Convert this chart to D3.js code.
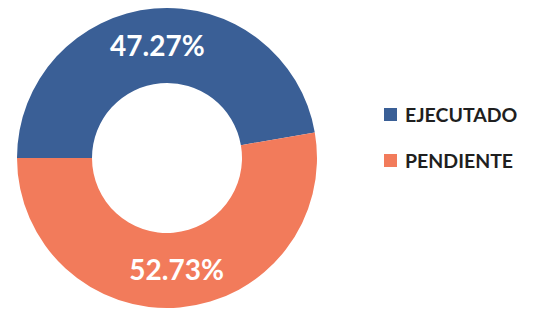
<!DOCTYPE html>
<html><head><meta charset="utf-8">
<script src="https://cdn.jsdelivr.net/npm/d3@7"></script>
<style>html,body{margin:0;padding:0;background:#fff;}</style>
</head><body>
<script>
const categories = ["EJECUTADO", "PENDIENTE"];
const values = [47.27, 52.73];
const labels = ["47.27%", "52.73%"];
const colors = ["#3A5F96", "#F27B5B"];

const W = 536, H = 309;
const cx = 167, cy = 158, rOuter = 150, rInner = 75;

const svg = d3.select("body").append("svg").attr("width", W).attr("height", H);
const g = svg.append("g").attr("transform", `translate(${cx},${cy})`);

const pie = d3.pie().sort(null).value(d => d)
  .startAngle(-Math.PI / 2).endAngle(1.5 * Math.PI);
const arc = d3.arc().innerRadius(rInner).outerRadius(rOuter);
const color = d3.scaleOrdinal().domain(categories).range(colors);

const arcs = pie(values);
g.selectAll("path").data(arcs).join("path")
  .attr("d", arc)
  .attr("fill", (d, i) => color(categories[i]));

g.selectAll("text.lbl").data(arcs).join("text")
  .attr("class", "lbl")
  .attr("transform", d => { const c = arc.centroid(d); return `translate(${c[0]},${c[1]})`; })
  .attr("text-anchor", "middle")
  .attr("dy", "0.36em")
  .attr("font-family", "Lato, sans-serif")
  .attr("font-weight", "bold")
  .attr("font-size", 28)
  .attr("fill", "#fff")
  .text((d, i) => labels[i]);

const legend = svg.append("g").attr("transform", "translate(384,108)");
const rows = legend.selectAll("g").data(categories).join("g")
  .attr("transform", (d, i) => `translate(0,${i * 46})`);
rows.append("rect").attr("width", 13).attr("height", 13)
  .attr("fill", d => color(d));
rows.append("text").attr("x", 21).attr("y", 13.5)
  .attr("font-family", "Lato, sans-serif").attr("font-weight", "bold")
  .attr("font-size", 19.5).attr("fill", "#1f1f1f")
  .text(d => d);
</script>
</body></html>
